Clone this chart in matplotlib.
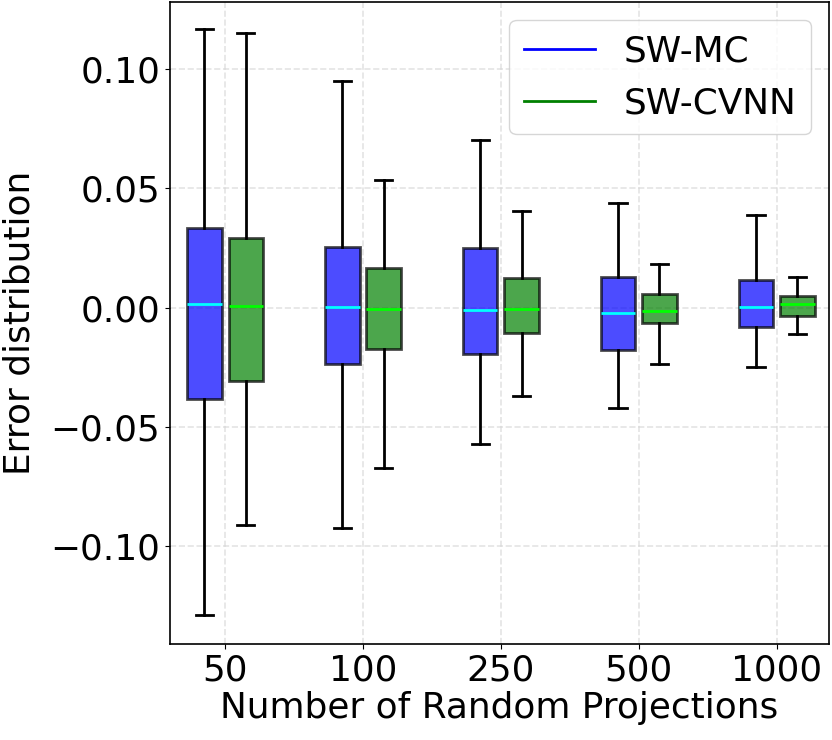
import matplotlib
matplotlib.use("Agg")
import matplotlib.pyplot as plt
from matplotlib.lines import Line2D

categories = ["50", "100", "250", "500", "1000"]

# SW-MC box statistics
mc_whislo = [-0.1292, -0.0924, -0.0573, -0.0423, -0.0250]
mc_q1     = [-0.0384, -0.0236, -0.0197, -0.0178, -0.0082]
mc_med    = [0.0015, 0.0001, -0.0010, -0.0022, 0.0002]
mc_q3     = [0.0332, 0.0255, 0.0249, 0.0128, 0.0114]
mc_whishi = [0.1169, 0.0951, 0.0702, 0.0440, 0.0387]

# SW-CVNN box statistics
cv_whislo = [-0.0913, -0.0672, -0.0372, -0.0237, -0.0110]
cv_q1     = [-0.0307, -0.0174, -0.0106, -0.0066, -0.0034]
cv_med    = [0.0006, -0.0005, -0.0005, -0.0016, 0.0015]
cv_q3     = [0.0292, 0.0165, 0.0123, 0.0055, 0.0048]
cv_whishi = [0.1151, 0.0534, 0.0404, 0.0181, 0.0128]

FS = 25.8

fig = plt.figure(figsize=(8.32, 7.4), dpi=100)
ax = fig.add_axes([0.2043, 0.1297, 0.7921, 0.8676])

def stats(lo, q1, med, q3, hi):
    return [dict(whislo=a, q1=b, med=c, q3=d, whishi=e, fliers=[])
            for a, b, c, d, e in zip(lo, q1, med, q3, hi)]

pos = list(range(1, len(categories) + 1))
off = 0.15
w = 0.25

for st, color, medc, shift in [
        (stats(mc_whislo, mc_q1, mc_med, mc_q3, mc_whishi), "blue", "cyan", -off),
        (stats(cv_whislo, cv_q1, cv_med, cv_q3, cv_whishi), "green", "lime", off)]:
    ax.bxp(st, positions=[p + shift for p in pos], widths=w, patch_artist=True,
           showfliers=False,
           boxprops=dict(facecolor=color, alpha=0.7, edgecolor="black", linewidth=2),
           whiskerprops=dict(color="black", linewidth=2),
           capprops=dict(color="black", linewidth=2),
           medianprops=dict(color=medc, linewidth=2))

ax.set_xticks(pos)
ax.set_xticklabels(categories)
ax.set_xlim(0.6, 5.38)
ax.set_ylim(-0.1413, 0.1283)
ax.set_yticks([-0.10, -0.05, 0.0, 0.05, 0.10])
ax.set_yticklabels(["\u22120.10", "\u22120.05", "0.00", "0.05", "0.10"])
ax.tick_params(labelsize=FS)
ax.grid(True, linestyle="--", color="lightgray", alpha=0.6, linewidth=1.2)
ax.set_axisbelow(True)
ax.set_xlabel("Number of Random Projections", fontsize=FS, labelpad=2)
ax.set_ylabel("Error distribution", fontsize=FS, labelpad=10)
for s in ax.spines.values():
    s.set_linewidth(1.2)

handles = [Line2D([0], [0], color="blue", lw=2), Line2D([0], [0], color="green", lw=2)]
ax.legend(handles, ["SW-MC", "SW-CVNN"], loc="upper right", fontsize=FS)

fig.savefig("out.png", dpi=100)
